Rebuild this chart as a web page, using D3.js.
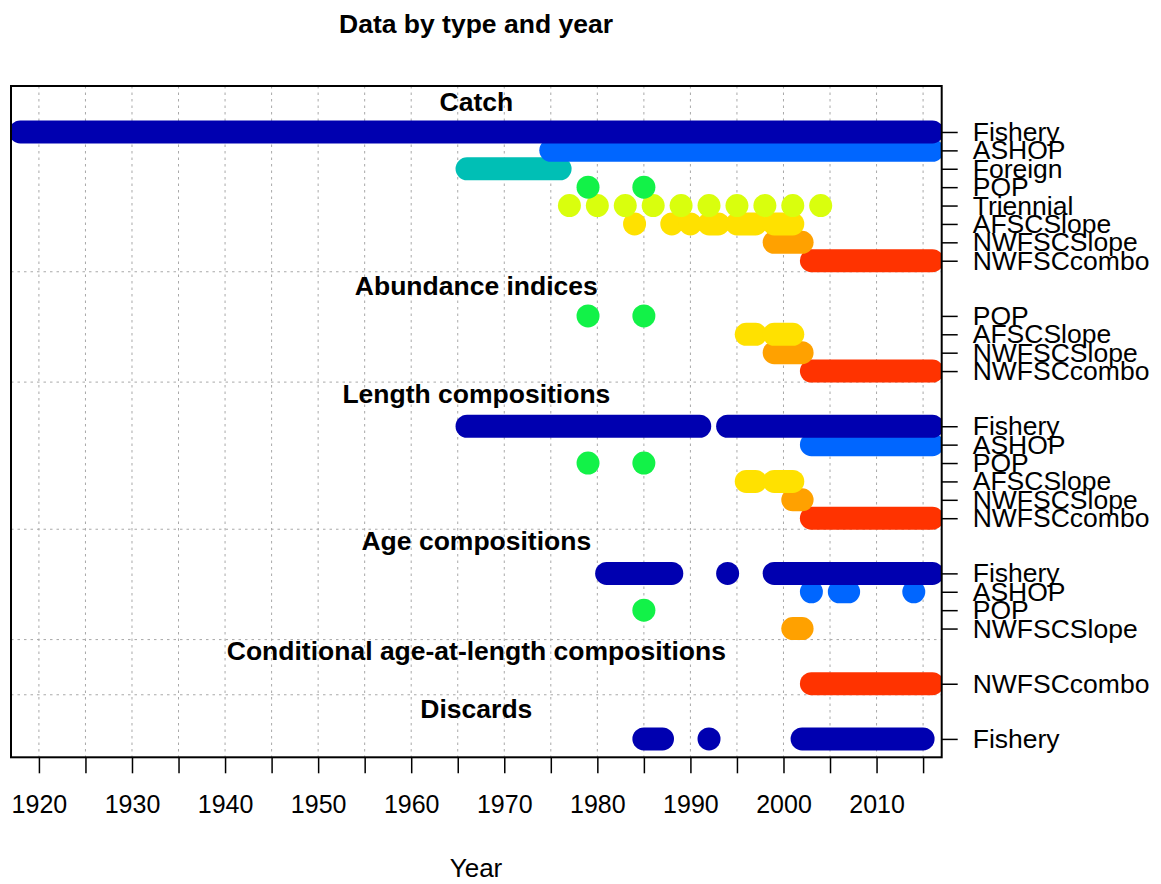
<!DOCTYPE html>
<html>
<head>
<meta charset="utf-8">
<script src="https://cdn.jsdelivr.net/npm/d3@7"></script>
<style>
  body { margin: 0; background: #fff; }
  svg { display: block; font-family: "Liberation Sans", Arial, sans-serif; }
</style>
</head>
<body>
<svg id="chart" width="1161" height="884"></svg>
<script>
// fleets and their colours
const fleetNames = ["Fishery", "ASHOP", "Foreign", "POP", "Triennial", "AFSCSlope", "NWFSCSlope", "NWFSCcombo"];
const fleetColors = ["#0000B0", "#0066FF", "#00BFB5", "#12F248", "#D9FF0D", "#FFE100", "#FFA100", "#FF3300"];

// data types, top to bottom
const typeLabels = ["Catch", "Abundance indices", "Length compositions", "Age compositions",
                    "Conditional age-at-length compositions", "Discards"];

// runs of consecutive years [first, last] for each fleet in each data type
const catchRuns = [
  ["Fishery",    [[1918, 2016]]],
  ["ASHOP",      [[1975, 2016]]],
  ["Foreign",    [[1966, 1976]]],
  ["POP",        [[1979, 1979], [1985, 1985]]],
  ["Triennial",  [[1977, 1977], [1980, 1980], [1983, 1983], [1986, 1986], [1989, 1989],
                  [1992, 1992], [1995, 1995], [1998, 1998], [2001, 2001], [2004, 2004]]],
  ["AFSCSlope",  [[1984, 1984], [1988, 1988], [1990, 1990], [1992, 1993], [1995, 1997], [1999, 2001]]],
  ["NWFSCSlope", [[1999, 2002]]],
  ["NWFSCcombo", [[2003, 2016]]]
];
const indexRuns = [
  ["POP",        [[1979, 1979], [1985, 1985]]],
  ["AFSCSlope",  [[1996, 1997], [1999, 2001]]],
  ["NWFSCSlope", [[1999, 2002]]],
  ["NWFSCcombo", [[2003, 2016]]]
];
const lengthRuns = [
  ["Fishery",    [[1966, 1991], [1994, 2016]]],
  ["ASHOP",      [[2003, 2016]]],
  ["POP",        [[1979, 1979], [1985, 1985]]],
  ["AFSCSlope",  [[1996, 1997], [1999, 2001]]],
  ["NWFSCSlope", [[2001, 2002]]],
  ["NWFSCcombo", [[2003, 2016]]]
];
const ageRuns = [
  ["Fishery",    [[1981, 1988], [1994, 1994], [1999, 2016]]],
  ["ASHOP",      [[2003, 2003], [2006, 2007], [2014, 2014]]],
  ["POP",        [[1985, 1985]]],
  ["NWFSCSlope", [[2001, 2002]]]
];
const caalRuns = [
  ["NWFSCcombo", [[2003, 2016]]]
];
const discardRuns = [
  ["Fishery",    [[1985, 1987], [1992, 1992], [2002, 2015]]]
];

const xTicks = d3.range(1920, 2016, 5);
const xLabels = d3.range(1920, 2011, 10);

const sections = [catchRuns, indexRuns, lengthRuns, ageRuns, caalRuns, discardRuns];

const svg = d3.select("#chart");
const plot = { left: 11, right: 941.7, top: 86, bottom: 757.3 };
const x = d3.scaleLinear().domain([1917, 2017]).range([plot.left, plot.right]);
const y = d3.scaleLinear().domain([-1, 35.5]).range([plot.bottom, plot.top]);
const color = d3.scaleOrdinal().domain(fleetNames).range(fleetColors);

const LW = 23;

// row positions: one unit per fleet, a gap of 3 between types
let pos = 33;
const rows = [];
const layout = sections.map((sec, i) => {
  const first = pos;
  sec.forEach(([name, runs]) => { rows.push({ name, runs, y: pos }); pos -= 1; });
  const last = pos + 1;
  pos -= 2;
  return { label: typeLabels[i], first, last };
});

svg.append("clipPath").attr("id", "clip")
  .append("rect")
  .attr("x", plot.left).attr("y", plot.top)
  .attr("width", plot.right - plot.left).attr("height", plot.bottom - plot.top);

// grid
const grid = svg.append("g").attr("stroke", "#a8a8a8").attr("stroke-width", 1).attr("stroke-dasharray", "2.5,4");
grid.selectAll("line.v").data(xTicks).join("line")
  .attr("x1", d => x(d)).attr("x2", d => x(d))
  .attr("y1", plot.top).attr("y2", plot.bottom);
grid.selectAll("line.h").data(layout.slice(0, -1)).join("line")
  .attr("x1", plot.left).attr("x2", plot.right)
  .attr("y1", d => y(d.last - 0.6)).attr("y2", d => y(d.last - 0.6));

// marks: lower rows first so upper rows sit on top
const marks = svg.append("g").attr("clip-path", "url(#clip)");
rows.slice().reverse().forEach(r => {
  r.runs.forEach(([a, b]) => {
    if (a === b) {
      marks.append("circle")
        .attr("cx", x(a)).attr("cy", y(r.y)).attr("r", LW / 2)
        .attr("fill", color(r.name));
    } else {
      marks.append("line")
        .attr("x1", x(a)).attr("x2", x(b))
        .attr("y1", y(r.y)).attr("y2", y(r.y))
        .attr("stroke", color(r.name)).attr("stroke-width", LW)
        .attr("stroke-linecap", "round");
    }
  });
});

// section labels
svg.append("g").selectAll("text").data(layout).join("text")
  .attr("x", (plot.left + plot.right) / 2)
  .attr("y", d => y(d.first + 1.63) + 9.3 - (/[gjpqy]/.test(d.label) ? 3 : 0))
  .attr("text-anchor", "middle")
  .attr("font-weight", "bold").attr("font-size", 26.5)
  .text(d => d.label);

// box
svg.append("rect")
  .attr("x", plot.left).attr("y", plot.top)
  .attr("width", plot.right - plot.left).attr("height", plot.bottom - plot.top)
  .attr("fill", "none").attr("stroke", "#000").attr("stroke-width", 2);

// bottom axis
const xAxis = svg.append("g")
  .attr("transform", `translate(0,${plot.bottom})`)
  .call(d3.axisBottom(x).tickValues(xTicks).tickSize(16).tickPadding(22)
        .tickFormat(d => xLabels.includes(d) ? d : ""));
xAxis.select(".domain").remove();
xAxis.selectAll(".tick line").attr("stroke-width", 1.5);
xAxis.selectAll("text").attr("font-size", 25).attr("font-family", "Liberation Sans, Arial, sans-serif");

// right axis with fleet names
const yAxis = svg.append("g")
  .attr("transform", `translate(${plot.right},0)`)
  .call(d3.axisRight(y).tickValues(rows.map(r => r.y)).tickSize(16).tickPadding(15)
        .tickFormat(d => rows.find(r => r.y === d).name));
yAxis.select(".domain").remove();
yAxis.selectAll(".tick line").attr("stroke-width", 1.5);
yAxis.selectAll("text").attr("font-size", 26.5).attr("fill", "#000")
  .attr("font-family", "Liberation Sans, Arial, sans-serif");

// titles
svg.append("text").attr("x", 476).attr("y", 33).attr("text-anchor", "middle")
  .attr("font-weight", "bold").attr("font-size", 26.5).text("Data by type and year");
svg.append("text").attr("x", 476).attr("y", 877).attr("text-anchor", "middle")
  .attr("font-size", 26).text("Year");
</script>
</body>
</html>
